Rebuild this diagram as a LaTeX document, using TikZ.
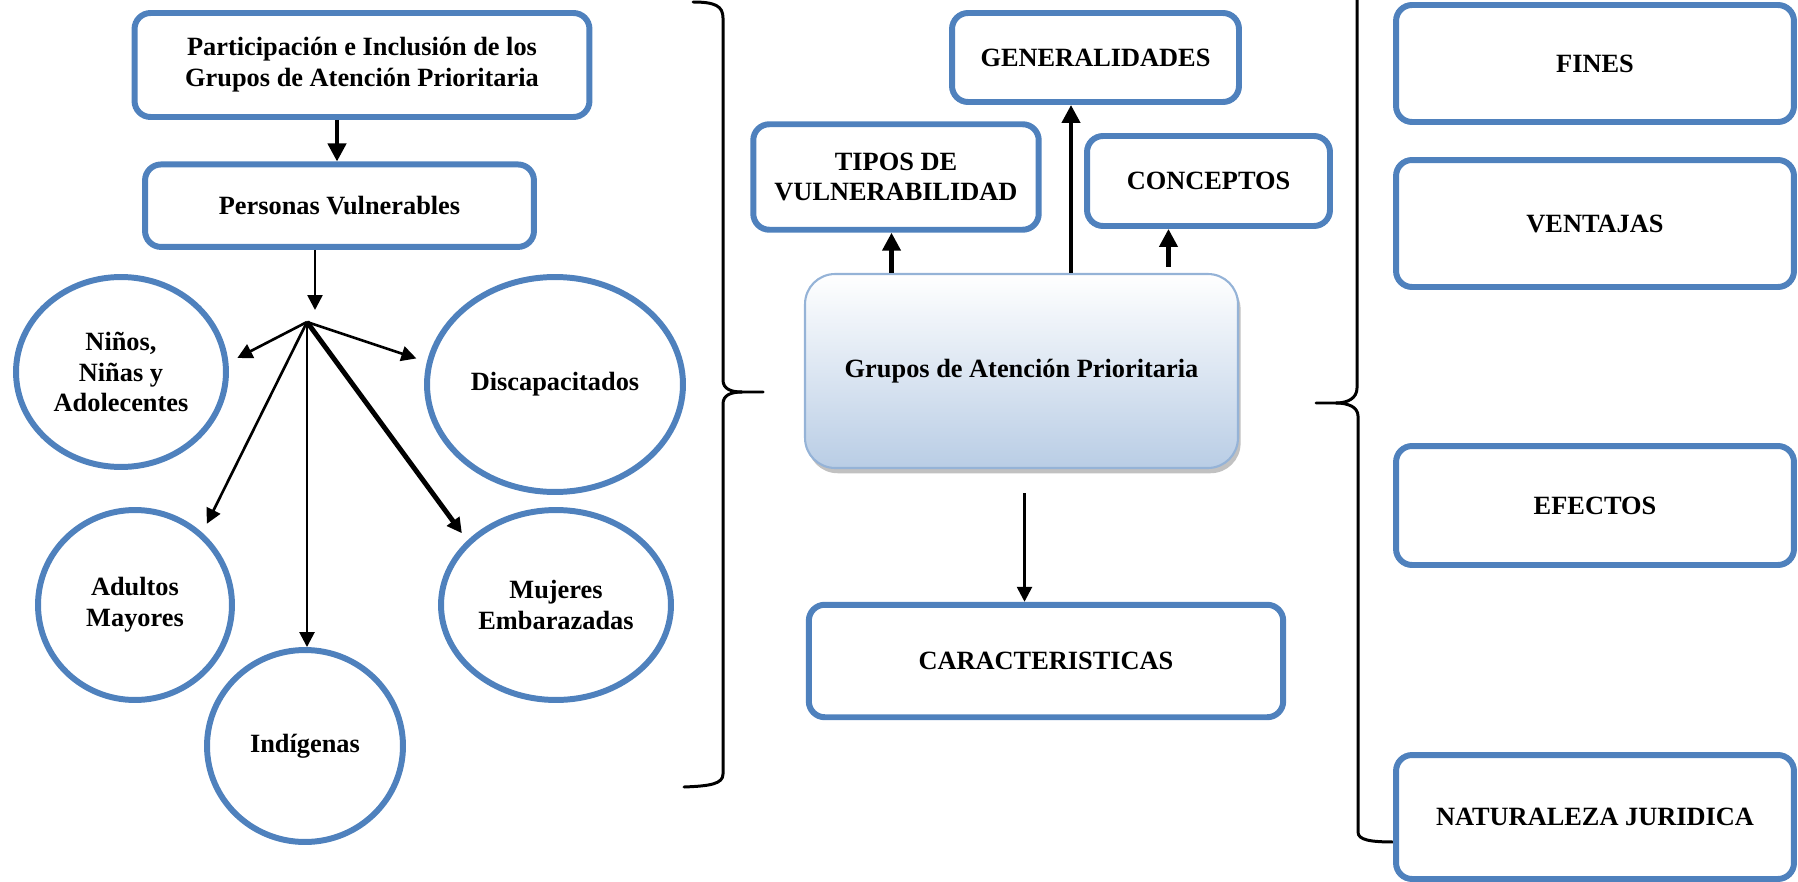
\documentclass[tikz,border=0pt]{standalone}
\usepackage{fontspec}
\setmainfont{Liberation Serif}
\usepackage{xcolor}
\usepackage{tikz}
\usetikzlibrary{shapes,arrows.meta,positioning,calc,shadows}

\definecolor{boxblue}{RGB}{79,129,189}
\definecolor{lineblue}{RGB}{149,179,215}
\definecolor{shadeblue}{RGB}{185,205,229}

\tikzset{
    txt/.style={font=\fontsize{15pt}{17.6pt}\selectfont\bfseries, align=center},
    bluebox/.style={txt, draw=boxblue, line width=3.4pt, rounded corners=0.32cm, inner sep=2pt},
    blueoval/.style={txt, ellipse, draw=boxblue, line width=3.4pt, inner sep=0pt},
    thinarrow/.style={-{Triangle[length=0.3cm,width=0.3cm]}, line width=1.5pt},
    thickarrow/.style={-{Triangle[length=0.36cm,width=0.36cm]}, line width=2.4pt},
    bracket/.style={line width=1.7pt, line cap=round},
}

\begin{document}
\begin{tikzpicture}[x=0.02cm, y=-0.02cm]
    \useasboundingbox (0,0) rectangle (1798,882);

    % Left Tree
    \node[bluebox, minimum width=9.1cm, minimum height=2.08cm] (part) at (362,65) {Participación e Inclusión de los\\Grupos de Atención Prioritaria};
    \node[bluebox, minimum width=7.78cm, minimum height=1.65cm] (vul) at (339.5,205.7) {Personas Vulnerables};
    \coordinate (hubin) at (315,310);
    \coordinate (hub) at (307,322);

    \node[blueoval, minimum width=4.2cm, minimum height=3.8cm] (nin) at (121,372) {Niños,\\Niñas y\\Adolecentes};
    \node[blueoval, minimum width=5.12cm, minimum height=4.3cm] (dis) at (555,384.5) {Discapacitados};
    \node[blueoval, minimum width=3.88cm, minimum height=3.8cm] (adu) at (135,605) {Adultos\\Mayores};
    \node[blueoval, minimum width=3.92cm, minimum height=3.84cm] (ind) at (305,746) {Indígenas};
    \node[blueoval, minimum width=4.6cm, minimum height=3.8cm] (muj) at (556,605) {Mujeres\\Embarazadas};

    \draw[thickarrow] ([xshift=-0.5cm]part.south) -- ([xshift=-0.5cm]part.south |- vul.north);
    \draw[thinarrow] (vul.south -| hubin) -- (hubin);
    \draw[thinarrow, shorten >=0.2cm] (hub) -- (nin.5);
    \draw[thinarrow, shorten >=0.22cm] (hub) -- (dis.170);
    \draw[thinarrow, shorten >=0.2cm] (hub) -- (adu.47);
    \draw[thinarrow] (hub) -- (hub |- ind.north);
    \draw[thinarrow, line width=2.8pt, shorten >=0.18cm] (hub) -- (muj.144);

    % Left Brace
    \draw[bracket] (693,2) .. controls (715,2) and (723,6) .. (723,18) -- (723,380) .. controls (723,389) and (731,392) .. (742,392) -- (763,392);
    \draw[bracket] (742,392) .. controls (731,392) and (723,395) .. (723,404) -- (723,774) .. controls (723,784) and (710,786) .. (684,787);

    % Middle
    \node[bluebox, minimum width=5.74cm, minimum height=1.78cm] (gen) at (1095.5,57.5) {GENERALIDADES};
    \node[bluebox, minimum width=5.71cm, minimum height=2.11cm] (tipos) at (896,177) {TIPOS DE\\VULNERABILIDAD};
    \node[bluebox, minimum width=4.86cm, minimum height=1.8cm] (con) at (1208.5,181) {CONCEPTOS};
    \node[txt, draw=lineblue, line width=1.2pt, rounded corners=0.6cm, top color=white, bottom color=shadeblue,
          drop shadow={shadow xshift=1.5pt, shadow yshift=-3pt, opacity=0.35, fill=black!70},
          minimum width=8.66cm, minimum height=3.88cm] (cen) at (1021.5,371) {Grupos de Atención Prioritaria};
    \node[bluebox, minimum width=9.49cm, minimum height=2.25cm] (car) at (1046,661) {CARACTERISTICAS};

    \draw[thickarrow] ([xshift=-2.6cm]cen.north) -- ([xshift=-2.6cm]cen.north |- tipos.south);
    \draw[thickarrow] ([xshift=0.99cm]cen.north) -- ([xshift=0.99cm]cen.north |- gen.south);
    \draw[thickarrow] ([xshift=2.94cm,yshift=0.12cm]cen.north) -- ([xshift=2.94cm]cen.north |- con.south);
    \draw[thinarrow] ([xshift=0.06cm,yshift=-0.48cm]cen.south) -- ([xshift=0.06cm]cen.south |- car.north);

    % Right Brace
    \draw[bracket] (1357,0) -- (1357,388) .. controls (1357,398) and (1348,403) .. (1336,403) -- (1316,403);
    \draw[bracket] (1336,403) .. controls (1348,403) and (1358,407) .. (1358,416) -- (1358,832) .. controls (1358,840) and (1370,842) .. (1395,842);

    % Right Boxes
    \foreach \name/\lbl/\y/\h in {fin/FINES/63.5/2.34, ven/VENTAJAS/223.5/2.54, efe/EFECTOS/505.5/2.38, nat/NATURALEZA JURIDICA/817/2.48} {
        \node[bluebox, minimum width=7.96cm, minimum height=\h cm] (\name) at (1595,\y) {\lbl};
    }

\end{tikzpicture}
\end{document}
